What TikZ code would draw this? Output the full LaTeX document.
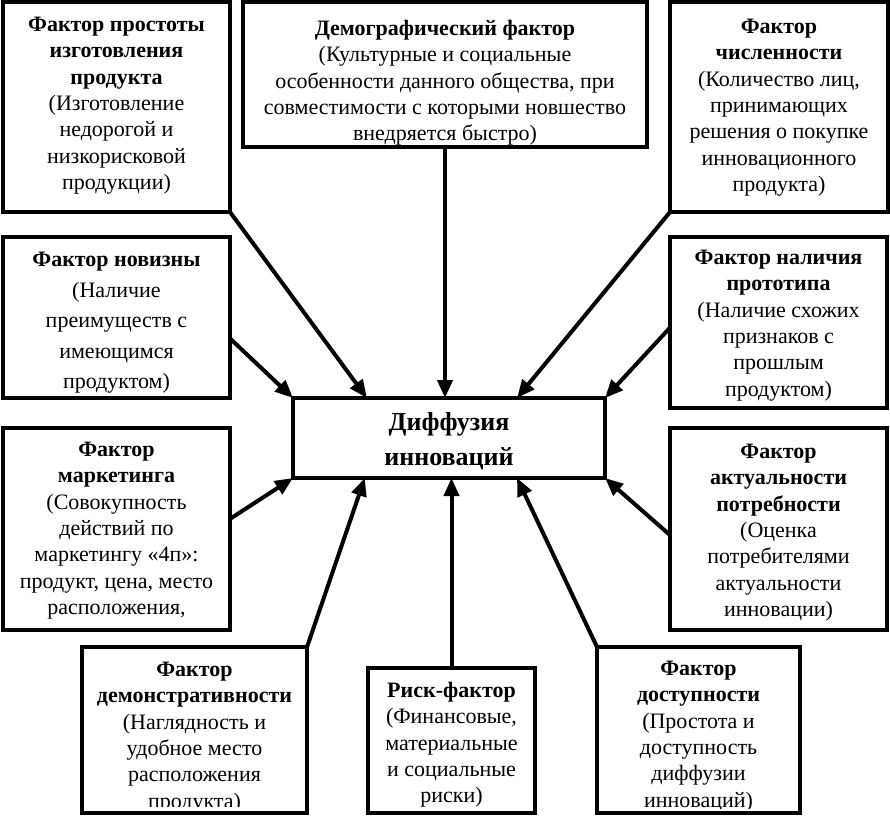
\documentclass[tikz,border=0pt]{standalone}
\usepackage{fontspec}
\setmainfont{Liberation Serif}
\usetikzlibrary{arrows.meta,calc}
\begin{document}
\begin{tikzpicture}[x=1pt,y=-1pt,
  box/.style={draw, line width=3.2pt, rectangle, inner sep=0pt, outer sep=0pt},
  txt/.style={anchor=north, align=center, inner sep=0pt, font=\fontsize{22}{26.3}\selectfont},
  arr/.style={line width=4pt, -{Triangle[length=18pt,width=15pt]}}]
\useasboundingbox (0,0) rectangle (890,817);
% boxes
\node[box, minimum width=227pt, minimum height=210pt] (b1) at (116.5,107) {};
\node[box, minimum width=404pt, minimum height=145pt] (b2) at (445,74.5) {};
\node[box, minimum width=218pt, minimum height=210pt] (b3) at (779,107) {};
\node[box, minimum width=227pt, minimum height=161pt] (b4) at (116.5,317.5) {};
\node[box, minimum width=217pt, minimum height=171pt] (b5) at (778.5,322.5) {};
\node[box, minimum width=227pt, minimum height=202pt] (b6) at (116.5,529) {};
\node[box, minimum width=217pt, minimum height=202pt] (b7) at (778.5,529) {};
\node[box, minimum width=225pt, minimum height=166pt] (b8) at (194.5,730) {};
\node[box, minimum width=167pt, minimum height=145pt] (b9) at (451.5,740.5) {};
\node[box, minimum width=203pt, minimum height=166pt] (b10) at (698.5,730) {};
\node[box, minimum width=312pt, minimum height=80pt] (c) at (449,438) {};
% texts
\node[txt] (t1) at (116.5,17) {\textbf{Фактор простоты}\\\textbf{изготовления}\\\textbf{продукта}\\(Изготовление\\недорогой и\\низкорисковой\\продукции)};
\node[txt] (t2) at (445,20) {\textbf{Демографический фактор}\\(Культурные и социальные\\особенности данного общества, при\\совместимости с которыми новшество\\внедряется быстро)};
\node[txt] (t3) at (779,19) {\textbf{Фактор}\\\textbf{численности}\\(Количество лиц,\\принимающих\\решения о покупке\\инновационного\\продукта)};
\node[txt, font=\fontsize{22}{30.5}\selectfont] (t4) at (116.5,252) {\textbf{Фактор новизны}\\(Наличие\\преимуществ с\\имеющимся\\продуктом)};
\node[txt] (t5) at (778.5,250) {\textbf{Фактор наличия}\\\textbf{прототипа}\\(Наличие схожих\\признаков с\\прошлым\\продуктом)};
\node[txt] (t6) at (116.5,442) {\textbf{Фактор}\\\textbf{маркетинга}\\(Совокупность\\действий по\\маркетингу «4п»:\\продукт, цена, место\\расположения,};
\node[txt] (t7) at (778.5,444) {\textbf{Фактор}\\\textbf{актуальности}\\\textbf{потребности}\\(Оценка\\потребителями\\актуальности\\инновации)};
\begin{scope}
\clip (b8.north west) rectangle ($(b8.south east)+(0,-7)$);
\node[txt] (t8) at (194.5,662) {\textbf{Фактор}\\\textbf{демонстративности}\\(Наглядность и\\удобное место\\расположения\\продукта)};
\end{scope}
\node[txt] (t9) at (451.5,682) {\textbf{Риск-фактор}\\(Финансовые,\\материальные\\и социальные\\риски)};
\begin{scope}
\clip (b10.north west) rectangle ($(b10.south east)+(0,-5)$);
\node[txt] (t10) at (698.5,661) {\textbf{Фактор}\\\textbf{доступности}\\(Простота и\\доступность\\диффузии\\инноваций)};
\end{scope}
\node[txt, font=\fontsize{26}{35}\selectfont\bfseries] (tc) at (449,412) {Диффузия\\инноваций};
% arrows
\draw[arr] (b1.south east) -- ($(c.north west)!0.237!(c.north east)$);
\draw[arr] (b2.south) -- (b2.south |- c.north);
\draw[arr] (b3.south west) -- ($(c.north west)!0.718!(c.north east)$);
\draw[arr] ($(b4.north east)!0.63!(b4.south east)$) -- (c.north west);
\draw[arr] ($(b5.north west)!0.53!(b5.south west)$) -- (c.north east);
\draw[arr] ($(b6.north east)!0.45!(b6.south east)$) -- (c.south west);
\draw[arr] ($(b7.north west)!0.53!(b7.south west)$) -- (c.south east);
\draw[arr] (b8.north east) -- ($(c.south west)!0.23!(c.south east)$);
\draw[arr] (b9.north) -- (b9.north |- c.south);
\draw[arr] (b10.north west) -- ($(c.south west)!0.718!(c.south east)$);
\end{tikzpicture}
\end{document}
